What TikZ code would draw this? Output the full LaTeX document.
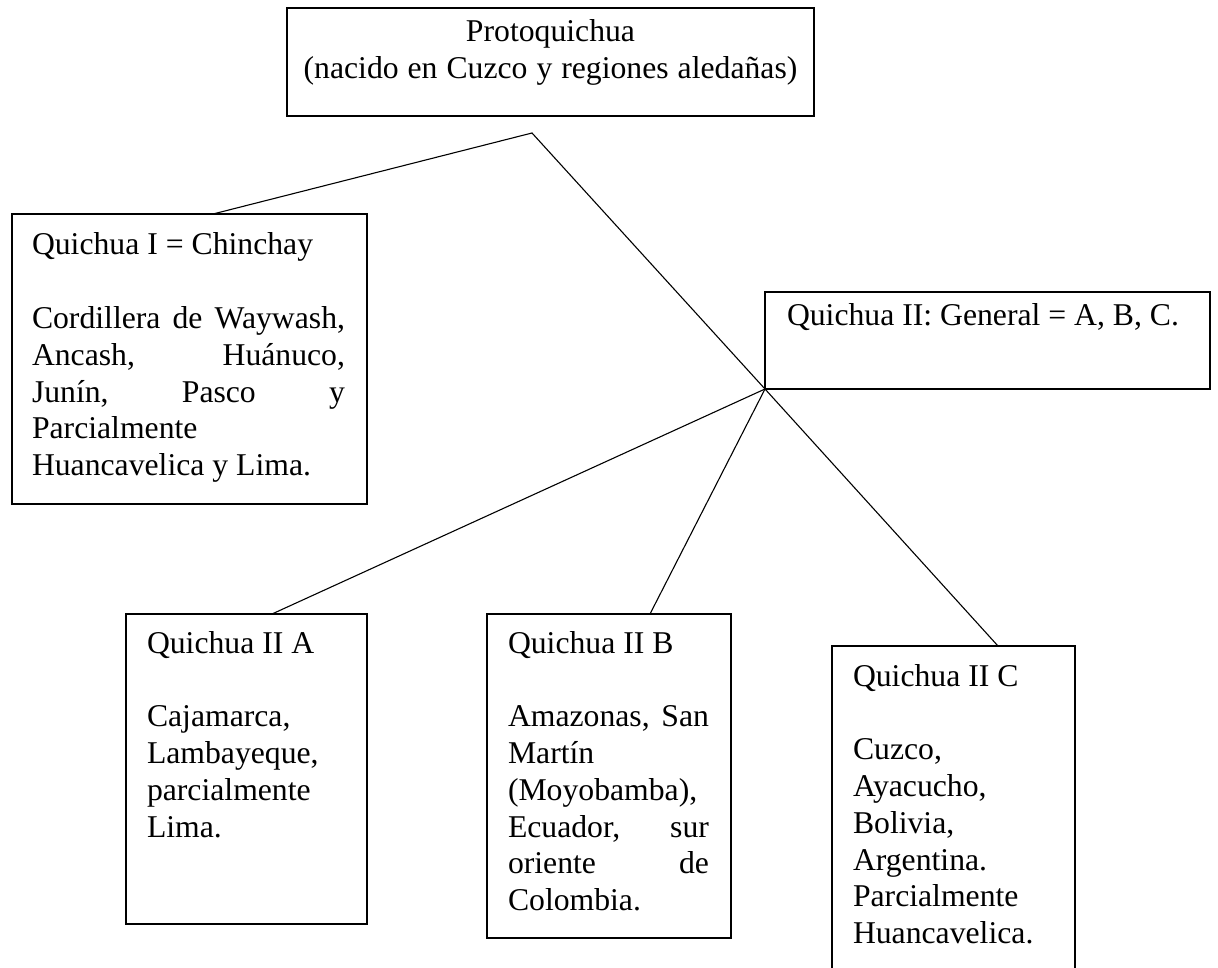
\documentclass[tikz,border=0pt]{standalone}
\usepackage{fontspec}
\setmainfont{Liberation Serif}
\frenchspacing
\newcommand{\natsp}{\spaceskip=0pt\xspaceskip=0pt\relax}
\begin{document}
\begin{tikzpicture}[x=1pt,y=-1pt,
  font=\fontsize{31.7}{36.8}\selectfont\frenchspacing,
  box/.style={draw, line width=1.6pt, anchor=north west, inner sep=0pt, outer sep=0pt},
  txt/.style={inner sep=0pt, outer sep=0pt, anchor=base west, align=left},
  link/.style={line width=1.1pt}]
\useasboundingbox (0,0) rectangle (1218,968);
% boxes
\node[box, minimum width=527pt, minimum height=108pt] (proto) at (287,8) {};
\node[box, minimum width=355pt, minimum height=290pt] (qI) at (12,214) {};
\node[box, minimum width=445pt, minimum height=97pt] (qII) at (765,292) {};
\node[box, minimum width=241pt, minimum height=310pt] (qIIA) at (126,614) {};
\node[box, minimum width=244pt, minimum height=324pt] (qIIB) at (487,614) {};
\node[box, minimum width=243pt, minimum height=360pt] (qIIC) at (832,646) {};
% texts
\node[txt, text width=527pt, align=center] (tproto) at (287,42) {\natsp Protoquichua\\(nacido en Cuzco y regiones aledañas)};
\node[txt, text width=313pt] (tI) at (32,255) {\natsp Quichua I = Chinchay\\[36.8pt]Cordillera\hfill de\hfill Waywash,\\Ancash,\hfill Huánuco,\\Junín,\hfill Pasco\hfill y\\Parcialmente\\Huancavelica y Lima.};
\node[txt, text width=420pt] (tII) at (787,326) {\natsp Quichua II: General = A, B, C.};
\node[txt, text width=200pt] (tIIA) at (147,653) {\natsp Quichua II A\\[36.8pt]Cajamarca,\\Lambayeque,\\parcialmente\\Lima.};
\node[txt, text width=201pt] (tIIB) at (508,653) {\natsp Quichua II B\\[36.8pt]Amazonas,\hfill San\\Martín\\(Moyobamba),\\Ecuador,\hfill sur\\oriente\hfill de\\Colombia.};
\node[txt, text width=200pt] (tIIC) at (853,686) {\natsp Quichua II C\\[36.8pt]Cuzco,\\Ayacucho,\\Bolivia,\\Argentina.\\Parcialmente\\Huancavelica.};
% connectors
\coordinate (apex) at (532,133);
\coordinate (pI) at (213,214);
\coordinate (pA) at (272,614);
\coordinate (pB) at (650,614);
\coordinate (pC) at (998,646);
\draw[link] (pI) -- (apex) -- (qII.south west) -- (pC);
\draw[link] (qII.south west) -- (pA);
\draw[link] (qII.south west) -- (pB);
\end{tikzpicture}
\end{document}
